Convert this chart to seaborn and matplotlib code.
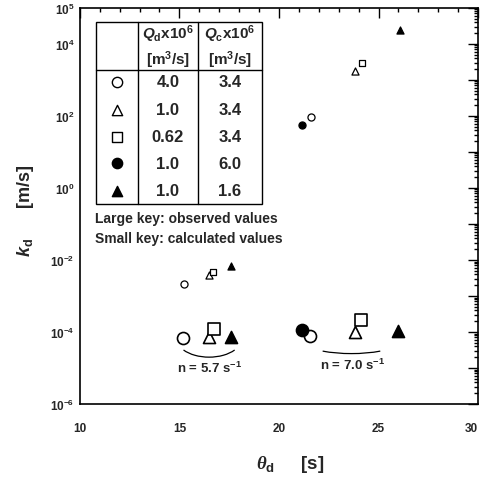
import numpy as np
import pandas as pd
import matplotlib
matplotlib.use("Agg")
import matplotlib.pyplot as plt
import seaborn as sns
from matplotlib.patches import Arc, Rectangle
from matplotlib.ticker import LogLocator, FixedLocator, FuncFormatter, MultipleLocator

# ---------------- data ----------------
series = ["open_circle", "open_triangle", "open_square", "filled_circle", "filled_triangle"]
q_d = ["4.0", "1.0", "0.62", "1.0", "1.0"]
q_c = ["3.4", "3.4", "3.4", "6.0", "1.6"]

# calculated values (small key)
calc_theta = {
    "open_circle": [15.23, 21.6],
    "open_triangle": [16.5, 23.8],
    "open_square": [16.7, 24.15],
    "filled_circle": [21.15],
    "filled_triangle": [17.6, 26.08],
}
calc_k = {
    "open_circle": [2.1e-3, 9.3e1],
    "open_triangle": [3.8e-3, 1.8e3],
    "open_square": [4.7e-3, 3.0e3],
    "filled_circle": [5.6e1],
    "filled_triangle": [6.8e-3, 2.45e4],
}
# observed values (large key)
obs_theta = {
    "open_circle": [15.2, 21.55],
    "open_triangle": [16.5, 23.8],
    "open_square": [16.75, 24.1],
    "filled_circle": [21.15],
    "filled_triangle": [17.6, 26.0],
}
obs_k = {
    "open_circle": [6.8e-5, 7.8e-5],
    "open_triangle": [7.2e-5, 1.0e-4],
    "open_square": [1.2e-4, 2.1e-4],
    "filled_circle": [1.15e-4],
    "filled_triangle": [7.2e-5, 1.07e-4],
}
group_labels = [r"n = 5.7 s$^{-1}$", r"n = 7.0 s$^{-1}$"]
ytick_labels = {5: r"10$^{5}$", 4: r"10$^{4}$", 2: r"10$^{2}$", 0: r"10$^{0}$",
                -2: r"10$^{-2}$", -4: r"10$^{-4}$", -6: r"10$^{-6}$"}
xtick_vals = [10, 15, 20, 25, 30]

# ---------------- style ----------------
sns.set_theme(style="white")
plt.rcParams["font.family"] = ["Liberation Sans", "DejaVu Sans"]
plt.rcParams["font.weight"] = "bold"
plt.rcParams["axes.labelweight"] = "bold"
plt.rcParams["mathtext.fontset"] = "custom"
plt.rcParams["mathtext.rm"] = "Liberation Sans:bold"
plt.rcParams["mathtext.bf"] = "Liberation Sans:bold"
plt.rcParams["mathtext.it"] = "Liberation Sans:italic:bold"
plt.rcParams["mathtext.sf"] = "Liberation Serif:italic"
plt.rcParams["mathtext.default"] = "rm"

markers = {
    "open_circle": ("o", "white"),
    "open_triangle": ("^", "white"),
    "open_square": ("s", "white"),
    "filled_circle": ("o", "black"),
    "filled_triangle": ("^", "black"),
}

fig = plt.figure(figsize=(4.81, 4.89), dpi=100)
ax = fig.add_axes([0.166, 0.172, 0.828, 0.810])

for name in series:
    m, fc = markers[name]
    small = 26 if m != "s" else 24
    big = 75 if m != "s" else 72
    df_c = pd.DataFrame({"theta": calc_theta[name], "k": calc_k[name]})
    df_o = pd.DataFrame({"theta": obs_theta[name], "k": obs_k[name]})
    sns.scatterplot(data=df_c, x="theta", y="k", marker=m, s=small, facecolor=fc,
                    edgecolor="black", linewidth=0.9, ax=ax, zorder=3)
    sns.scatterplot(data=df_o, x="theta", y="k", marker=m, s=big, facecolor=fc,
                    edgecolor="black", linewidth=1.2, ax=ax, zorder=3)

ax.set_yscale("log")
ax.set_xlim(10, 30)
ax.set_ylim(1e-6, 1e5)

ax.xaxis.set_major_locator(FixedLocator(xtick_vals))
ax.xaxis.set_minor_locator(MultipleLocator(1))
ax.yaxis.set_major_locator(LogLocator(base=10, numticks=20))
ax.yaxis.set_minor_locator(LogLocator(base=10, subs=np.arange(2, 10), numticks=20))

def yfmt(v, pos):
    e = int(round(np.log10(v)))
    return ytick_labels.get(e, "")
ax.yaxis.set_major_formatter(FuncFormatter(yfmt))
ax.yaxis.set_minor_formatter(FuncFormatter(lambda v, p: ""))

ax.tick_params(which="both", direction="in", top=True, right=True, color="black",
               width=1.0)
ax.tick_params(which="major", length=7)
ax.tick_params(which="minor", length=3)
ax.tick_params(axis="x", which="major", pad=13, labelsize=8.5)
ax.tick_params(axis="y", which="major", pad=4, labelsize=8.5)
for sp in ax.spines.values():
    sp.set_color("black")
    sp.set_linewidth(1.2)
xlabs = ax.get_xticklabels()
for lab in xlabs + ax.get_yticklabels():
    lab.set_fontweight("bold")
xlabs[-1].set_horizontalalignment("right")

ax.set_xlabel(r"$\mathsf{\theta}_{\mathrm{d}}$     [s]", fontsize=13.5, labelpad=14,
              fontweight="bold")
ax.xaxis.label.set_x(0.528)
ax.set_ylabel(r"$\mathit{k}_{\mathrm{d}}$      [m/s]", fontsize=13, labelpad=10,
              fontweight="bold")
ax.yaxis.label.set_y(0.49)

# ---------------- table ----------------
x0, x1 = 0.040, 0.457
y0, y1 = 0.505, 0.965
xc1, xc2 = 0.146, 0.296
yh = 0.843
ax.add_patch(Rectangle((x0, y0), x1 - x0, y1 - y0, transform=ax.transAxes,
                       fill=False, edgecolor="black", linewidth=1.0, zorder=4))
ax.plot([xc1, xc1], [y0, y1], transform=ax.transAxes, color="black", lw=1.0)
ax.plot([xc2, xc2], [y0, y1], transform=ax.transAxes, color="black", lw=1.0)
ax.plot([x0, x1], [yh, yh], transform=ax.transAxes, color="black", lw=1.0)

hx1 = (xc1 + xc2) / 2
hx2 = (xc2 + x1) / 2
hfs = 11
ax.text(hx1, 0.935, r"$\mathit{Q}_{\mathrm{d}}$x10$^{6}$", transform=ax.transAxes,
        ha="center", va="center", fontsize=hfs)
ax.text(hx1, 0.871, r"[m$^{3}$/s]", transform=ax.transAxes, ha="center", va="center",
        fontsize=hfs)
ax.text(hx2, 0.935, r"$\mathit{Q}_{\mathrm{c}}$x10$^{6}$", transform=ax.transAxes,
        ha="center", va="center", fontsize=hfs)
ax.text(hx2, 0.871, r"[m$^{3}$/s]", transform=ax.transAxes, ha="center", va="center",
        fontsize=hfs)

row_y = [0.813, 0.743, 0.675, 0.608, 0.538]
for name, qd, qc, ry in zip(series, q_d, q_c, row_y):
    m, fc = markers[name]
    ax.scatter([(x0 + xc1) / 2], [ry], transform=ax.transAxes, marker=m, s=55,
               facecolor=fc, edgecolor="black", linewidth=1.0, zorder=5, clip_on=False)
    ax.text(hx1, ry, qd, transform=ax.transAxes, ha="center", va="center", fontsize=12)
    ax.text(hx2, ry, qc, transform=ax.transAxes, ha="center", va="center", fontsize=12)

ax.text(x0 - 0.003, 0.470, "Large key: observed values", transform=ax.transAxes,
        ha="left", va="center", fontsize=10)
ax.text(x0 - 0.003, 0.418, "Small key: calculated values", transform=ax.transAxes,
        ha="left", va="center", fontsize=10)

# ---------------- brackets ----------------
for (ax0, ax1, ytop, ybot), lab, (lx, ly) in zip(
        [(0.244, 0.405, 0.148, 0.118), (0.550, 0.814, 0.152, 0.127)],
        group_labels, [(0.325, 0.092), (0.685, 0.100)]):
    cx = (ax0 + ax1) / 2
    w = ax1 - ax0
    h = (ytop - ybot) * 2 * 1.6
    cy = ybot + h / 2
    ax.add_patch(Arc((cx, cy), w * 1.02, h, theta1=205, theta2=335,
                     transform=ax.transAxes, color="black", lw=0.9))
    ax.text(lx, ly, lab, transform=ax.transAxes, ha="center", va="center", fontsize=9.5)

fig.savefig("out.png", dpi=100)
